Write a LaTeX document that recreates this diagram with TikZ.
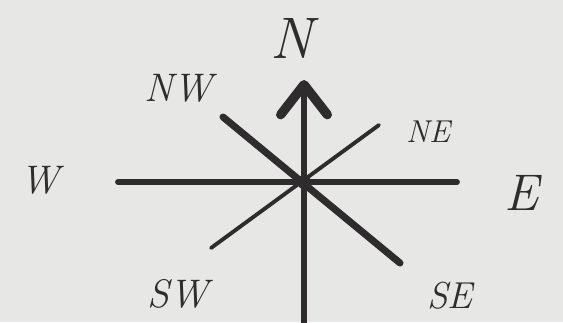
\documentclass[tikz,border=0pt]{standalone}
\usepackage{tikz}
\usetikzlibrary{arrows.meta}
\definecolor{paper}{HTML}{E7E7E5}
\definecolor{ink}{HTML}{2E2C2C}
\tikzset{
  ray/.style   ={draw=ink, line cap=round},
  heavy/.style ={ray, line width=5pt},
  light/.style ={ray, line width=3.3pt},
  % the hand-drawn chevron at the top of the north stroke
  northtip/.style={-{Straight Barb[length=9mm, width=14mm, line width=8pt, round]}},
  dirlabel/.style={text=ink, font=\fontsize{26}{26}\selectfont\itshape},
}

\begin{document}
\begin{tikzpicture}[x=0.03cm, y=-0.03cm]
\fill[paper] (0,0) rectangle (563,322);
\useasboundingbox (0,0) rectangle (563,322);
\coordinate (C) at (304,182);
\foreach \n/\x/\y in {w/118/182, e/457/182, n/304/80, s/304/324,
   nw/223/117, se/400/263, ne/379/125, sw/211/248}
  {\coordinate (\n) at (\x,\y);}
\draw[heavy] (w) -- (e);
\draw[heavy, line width=6pt] (nw) -- (se);
\draw[light] (sw) -- (ne);
\draw[heavy, line width=4.5pt, line cap=butt, northtip] (s) -- (n);
\fill[ink] (C) circle (7);
\foreach \n/\x/\y/\t/\s in {%
   lN/292/38/N/50, lNW/178/88/NW/34, lNE/428/132/NE/27,
   lW/40/180/W/34, lE/522/193/E/44, lSW/178/294/SW/34, lSE/450/296/SE/32}
  {\node[dirlabel, font=\fontsize{\s}{\s}\selectfont\itshape] (\n) at (\x,\y) {\t};}
\end{tikzpicture}
\end{document}
